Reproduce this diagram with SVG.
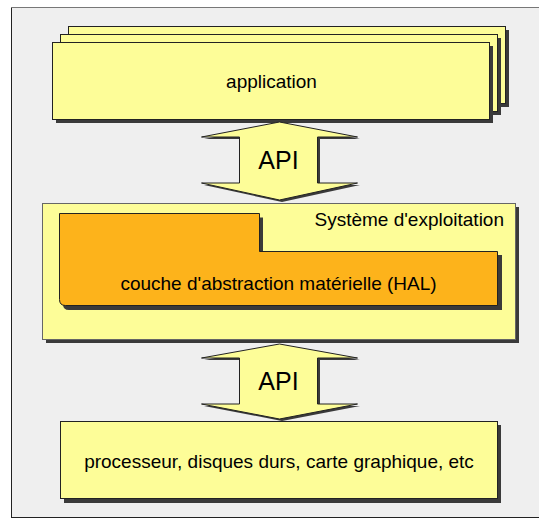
<svg xmlns="http://www.w3.org/2000/svg" width="539" height="519" viewBox="0 0 539 519">
  <style>
    .box { fill: #fdfd98; stroke: #222; stroke-width: 1; }
    .hal { fill: #fdb31b; stroke: #222; stroke-width: 1; }
    .shadow { fill: #3a3a3a; }
    .lbl { font-family: "Liberation Sans", Arial, sans-serif; fill: #000; }
  </style>
  <defs>
    <!-- double-headed vertical arrow, centred on x=0 -->
    <path id="dbl-arrow" d="M0,0 L78,15 L38,15 L38,61 L78,61 L0,78 L-78,61 L-40,61 L-40,15 L-78,15 Z"/>
    <path id="dbl-arrow2" d="M0,0 L78,14 L38,14 L38,60 L78,60 L0,75 L-78,60 L-40,60 L-40,14 L-78,14 Z"/>
  </defs>

  <!-- frame -->
  <rect x="11.5" y="7.5" width="540" height="510" fill="#efefef" stroke="#222" stroke-width="1"/>
  <line x1="11" y1="7.5" x2="539" y2="7.5" stroke="#777" stroke-width="1"/>

  <!-- application stack -->
  <g id="application">
    <rect class="shadow" x="72" y="30" width="437" height="77"/>
    <rect class="box" x="68.5" y="26.5" width="437" height="77"/>
    <rect class="shadow" x="64" y="38" width="437" height="77"/>
    <rect class="box" x="60.5" y="34.5" width="437" height="77"/>
    <rect class="shadow" x="56" y="46" width="437" height="77"/>
    <rect class="box" x="52.5" y="42.5" width="437" height="77"/>
    <text class="lbl" x="271.5" y="88" font-size="19" text-anchor="middle">application</text>
  </g>

  <!-- operating system -->
  <g id="os">
    <rect class="shadow" x="46" y="207" width="473" height="136"/>
    <rect x="42.5" y="203.5" width="473" height="136" fill="#fdfd98" stroke="#666" stroke-width="1"/>
    <text class="lbl" x="504" y="226" font-size="19" text-anchor="end">Système d'exploitation</text>
  </g>

  <!-- hardware abstraction layer -->
  <g id="hal">
    <path class="shadow" d="M63,217.5 L263,217.5 L263,255 L502,255 L502,310 L69,310 Q63,310 63,304 Z"/>
    <path class="hal" d="M59.5,213.5 L259.5,213.5 L259.5,251.5 L497.5,251.5 L497.5,305.5 L65.5,305.5 Q59.5,305.5 59.5,299.5 Z"/>
    <text class="lbl" x="278.5" y="290" font-size="19" text-anchor="middle">couche d'abstraction matérielle (HAL)</text>
  </g>

  <!-- hardware -->
  <g id="hardware">
    <rect class="shadow" x="64" y="425" width="437" height="78"/>
    <rect class="box" x="60.5" y="421.5" width="437" height="77"/>
    <text class="lbl" x="279" y="468" font-size="19" text-anchor="middle">processeur, disques durs, carte graphique, etc</text>
  </g>

  <!-- connectors -->
  <g id="connectors">
    <g id="api-top">
      <use href="#dbl-arrow" x="282" y="124" fill="#3a3a3a"/>
      <use href="#dbl-arrow" x="279.5" y="122" fill="#fdfd98" stroke="#222" stroke-width="1"/>
      <text class="lbl" x="278.5" y="169" font-size="25" text-anchor="middle">API</text>
    </g>
    <g id="api-bottom">
      <use href="#dbl-arrow2" x="282" y="346" fill="#3a3a3a"/>
      <use href="#dbl-arrow2" x="279.5" y="344" fill="#fdfd98" stroke="#222" stroke-width="1"/>
      <text class="lbl" x="278.5" y="390" font-size="25" text-anchor="middle">API</text>
    </g>
  </g>
</svg>
